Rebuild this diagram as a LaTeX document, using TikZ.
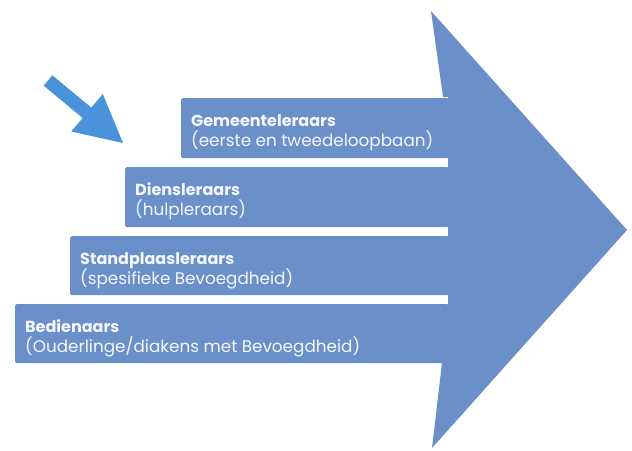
\documentclass[tikz,border=0pt]{standalone}
\usepackage{fontspec}
\setmainfont{Poppins}
\usetikzlibrary{calc}
\definecolor{bigblue}{HTML}{6A8FC9}
\definecolor{smallblue}{HTML}{4A92DA}
\definecolor{txtwhite}{HTML}{F4F7FC}
\tikzset{
  stepbox/.style={fill=bigblue, draw=none, rounded corners=1.5pt, inner sep=0pt, anchor=north west},
  titletxt/.style={text=txtwhite, font=\fontsize{16}{19}\selectfont\bfseries, inner sep=0pt, anchor=base west},
  subtxt/.style={text=txtwhite, font=\fontsize{16.8}{19}\selectfont, inner sep=0pt, anchor=base west},
}
\begin{document}
\begin{tikzpicture}[x=1pt,y=-1pt]
\useasboundingbox (0,0) rectangle (632,450);
% big arrow head
\fill[bigblue] (431,11) -- (627,230) -- (432,448) -- (442,363) -- (448,363) -- (448,97) -- (443,97) -- cycle;
% steps
\node[stepbox, minimum width=267.5pt, minimum height=60pt] (b1) at (181,98) {};
\node[stepbox, minimum width=323.5pt, minimum height=60pt] (b2) at (125,167) {};
\node[stepbox, minimum width=378.5pt, minimum height=59pt] (b3) at (70,236) {};
\node[stepbox, minimum width=433.5pt, minimum height=59pt] (b4) at (15,304) {};
% texts
\node[titletxt] (t1) at ($(b1.north west)+(10,28)$) {Gemeenteleraars};
\node[subtxt] (s1) at ($(b1.north west)+(10,48)$) {(eerste en tweedeloopbaan)};
\node[titletxt] (t2) at ($(b2.north west)+(10,28)$) {Diensleraars};
\node[subtxt] (s2) at ($(b2.north west)+(10,48)$) {(hulpleraars)};
\node[titletxt] (t3) at ($(b3.north west)+(10,28)$) {Standplaasleraars};
\node[subtxt] (s3) at ($(b3.north west)+(10,48)$) {(spesifieke Bevoegdheid)};
\node[titletxt] (t4) at ($(b4.north west)+(10,28)$) {Bedienaars};
\node[subtxt] (s4) at ($(b4.north west)+(10,48)$) {(Ouderlinge/diakens met Bevoegdheid)};
% small arrow
\fill[smallblue] (52.3,75.3) -- (91.3,107.6) -- (102.8,94.1) -- (123,143) -- (71.2,131.5) -- (82.7,118) -- (43.7,85.7) -- cycle;
\end{tikzpicture}
\end{document}
